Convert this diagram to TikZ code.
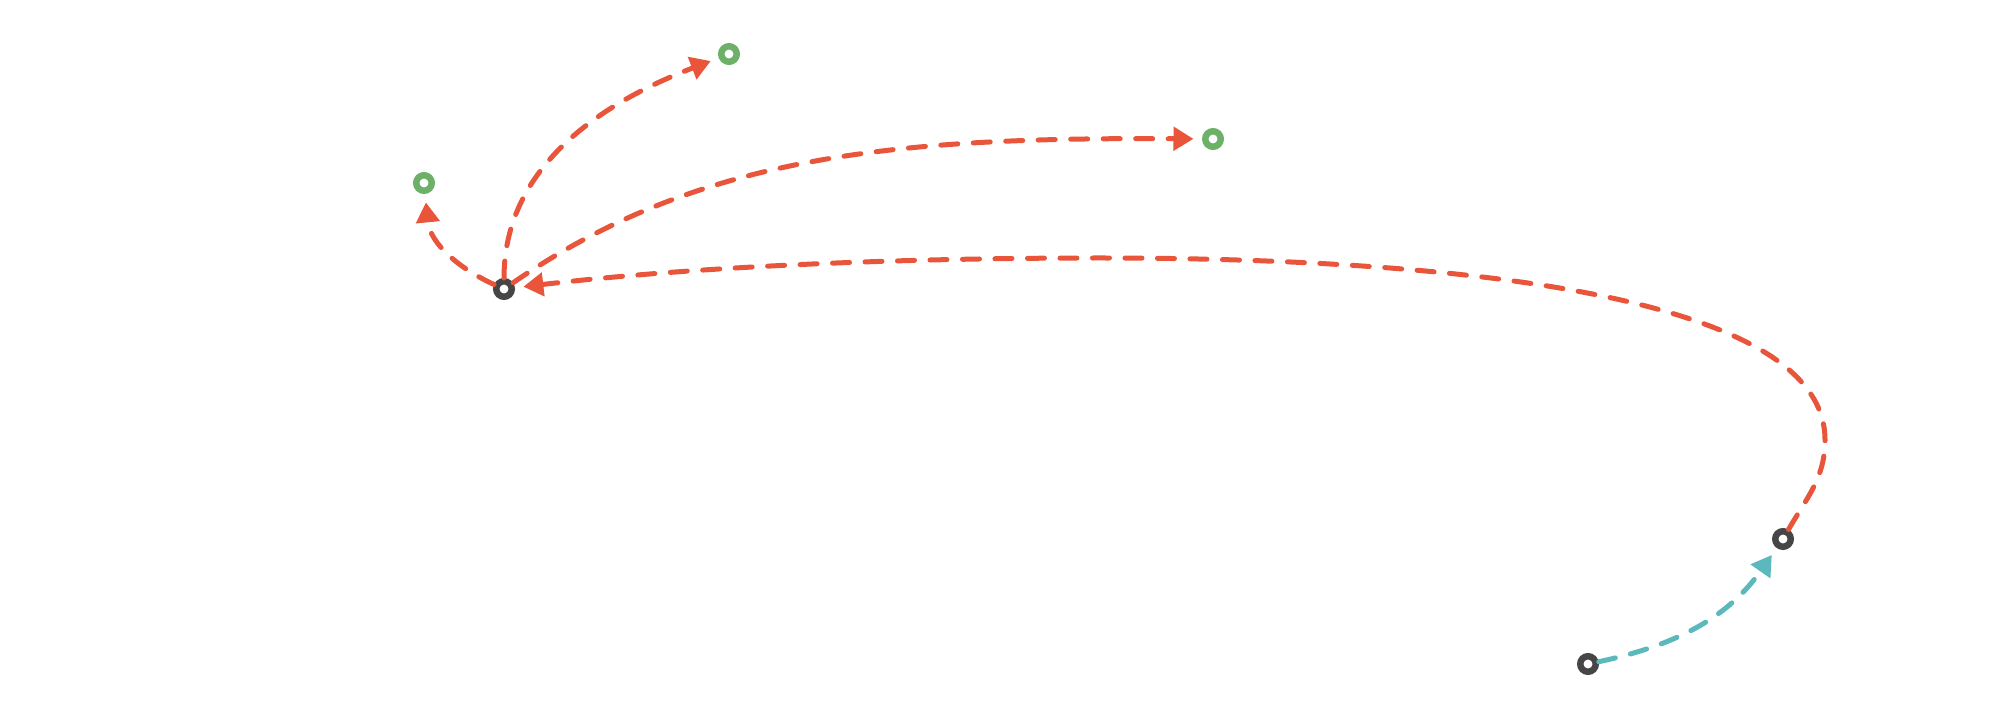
\documentclass[tikz,border=0pt]{standalone}
\usetikzlibrary{arrows.meta}
\definecolor{linkorange}{HTML}{E8553A}
\definecolor{nodegreen}{HTML}{6DB068}
\definecolor{linkcyan}{HTML}{5BB8BC}
\definecolor{nodegray}{HTML}{464646}
\tikzset{
  ringnode/.style={circle,draw=#1,fill=white,line width=0.065cm,minimum size=0.155cm,inner sep=0pt},
  link/.style={draw=#1,line width=0.05cm,line cap=round,dash pattern=on 0.17cm off 0.155cm,
    shorten >=0.085cm,-{Triangle[length=0.2cm,width=0.23cm,fill=#1]}},
}
\begin{document}
\begin{tikzpicture}
\useasboundingbox (0,0) rectangle (20,7.04);
\node[ringnode=nodegray] (A) at (5.04,4.15) {};
\node[ringnode=nodegray] (B) at (17.83,1.65) {};
\node[ringnode=nodegray] (C) at (15.88,0.40) {};
\node[ringnode=nodegreen] (D) at (4.24,5.21) {};
\node[ringnode=nodegreen] (E) at (7.29,6.50) {};
\node[ringnode=nodegreen] (F) at (12.13,5.65) {};
\coordinate (R) at (18.25,2.64);
\coordinate (T) at (11.0,4.46);
% B -> A long loop
\draw[link=linkorange] (B) to[out=60,in=-90] (R)
  .. controls (18.25,4.1) and (14.5,4.46) .. (T)
  .. controls (9.0,4.46) and (7.0,4.38) .. (A);
% A -> D
\draw[link=linkorange] (A) .. controls (4.6,4.35) and (4.3,4.6) .. (D);
% A -> E
\draw[link=linkorange] (A) .. controls (5.04,5.5) and (6.25,6.1) .. (E);
% A -> F
\draw[link=linkorange] (A) .. controls (7.0,5.5) and (9.0,5.67) .. (F);
% C -> B
\draw[link=linkcyan] (C) to[out=12,in=-125] (B);
\end{tikzpicture}
\end{document}
